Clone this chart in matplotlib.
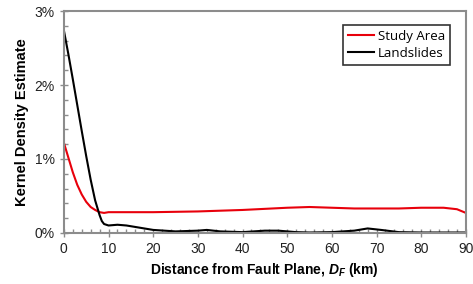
import numpy as np
import matplotlib.pyplot as plt
from matplotlib.ticker import MultipleLocator, FuncFormatter

plt.rcParams['font.family'] = ['Liberation Sans', 'DejaVu Sans']
plt.rcParams['mathtext.fontset'] = 'custom'
plt.rcParams['mathtext.it'] = 'Liberation Sans:bold:italic'
plt.rcParams['mathtext.rm'] = 'Liberation Sans:bold'

# -----------------------------
# Data, KDE in percent
# -----------------------------
land_x = [0, 1, 2, 3, 4, 5, 6, 7, 8, 8.5, 9, 10, 12, 14, 16, 18, 20, 25, 30, 32, 35,
          40, 45, 48, 52, 55, 60, 65, 68, 71, 75, 80, 85, 90]
land_y = [2.74, 2.42, 2.08, 1.73, 1.38, 1.04, 0.72, 0.44, 0.24, 0.16, 0.12, 0.10, 0.11,
          0.10, 0.08, 0.06, 0.04, 0.02, 0.03, 0.04, 0.02, 0.01, 0.03, 0.03, 0.01,
          0.005, 0.01, 0.03, 0.06, 0.04, 0.01, 0.005, 0.005, 0.005]

area_x = [0, 1, 2, 3, 4, 5, 6, 7, 8, 9, 10, 15, 20, 30, 40, 50, 55, 60, 65, 70,
          75, 80, 85, 88, 90]
area_y = [1.22, 1.02, 0.82, 0.65, 0.52, 0.42, 0.35, 0.31, 0.28, 0.27, 0.28, 0.28,
          0.28, 0.29, 0.31, 0.34, 0.35, 0.34, 0.33, 0.33, 0.33, 0.34, 0.34, 0.32, 0.27]

# -----------------------------
# Plot
# -----------------------------
fig = plt.figure(figsize=(4.73, 2.84), dpi=100)
ax = fig.add_axes([0.135, 0.18, 0.85, 0.781])

ax.plot(area_x, area_y, color='#e8000b', lw=1.5, label='Study Area')
ax.plot(land_x, land_y, color='black', lw=1.5, label='Landslides')

ax.set_xlim(0, 90)
ax.set_ylim(0, 3)
ax.xaxis.set_major_locator(MultipleLocator(10))
ax.xaxis.set_minor_locator(MultipleLocator(2))
ax.yaxis.set_major_locator(MultipleLocator(1))
ax.yaxis.set_minor_locator(MultipleLocator(0.2))
ax.yaxis.set_major_formatter(FuncFormatter(lambda v, p: f"{v:.0f}%"))

gray = '#8c8c8c'
for s in ax.spines.values():
    s.set_color(gray)
    s.set_linewidth(1.5)
ax.tick_params(which='major', direction='inout', length=6, width=1, color=gray,
               labelsize=10, labelcolor='#222222')
ax.tick_params(which='minor', direction='in', length=3, width=1, color=gray)

ax.set_ylabel("Kernel Density Estimate", fontsize=10.5, fontweight='bold')
ax.set_xlabel("Distance from Fault Plane, $D_F$ (km)", fontsize=10, fontweight='bold')

leg = ax.legend(loc='upper right', bbox_to_anchor=(0.96, 0.935), borderaxespad=0,
                fancybox=False, frameon=True, handlelength=2.0, borderpad=0.35,
                labelspacing=0.3, handletextpad=0.3, prop={'family': 'Open Sans', 'size': 9.5})
leg.get_frame().set_edgecolor('black')
leg.get_frame().set_linewidth(1.2)

fig.savefig('out.png', dpi=100)
